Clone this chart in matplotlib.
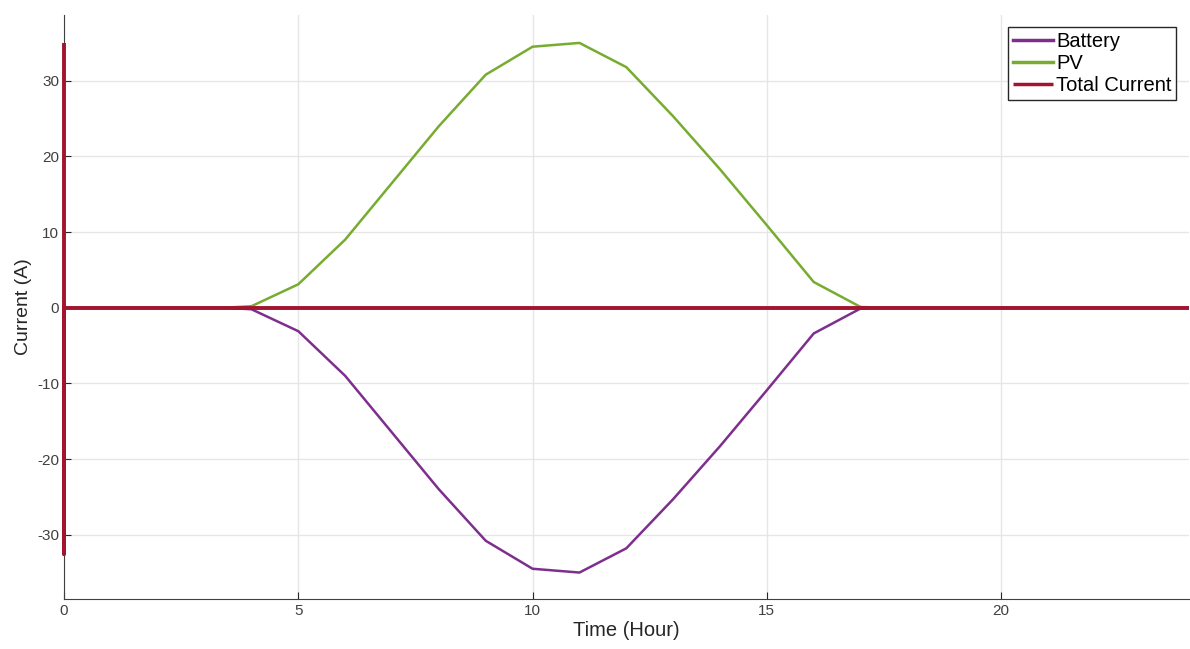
import numpy as np
import matplotlib.pyplot as plt

plt.rcParams['font.family'] = ['Liberation Sans', 'DejaVu Sans']
plt.rcParams['axes.unicode_minus'] = False

# hourly readings
hours = [0, 3.4, 4, 5, 6, 7, 8, 9, 10, 11, 12, 13, 14, 15, 16, 17, 17.5, 24]
pv = [0, 0, 0.2, 3.1, 9.0, 16.5, 24.0, 30.8, 34.5, 35.0, 31.8, 25.3, 18.3, 10.9, 3.4, 0.1, 0, 0]
battery = [-v for v in pv]
total_t = [0, 0, 0, 24]
total = [35.0, -32.5, 0, 0]

fig = plt.figure(figsize=(11.9, 6.49), dpi=100)
ax = fig.add_axes([0.0538, 0.077, 0.945, 0.9])

ax.plot(hours, battery, color='#7E2F8E', lw=1.8, label='Battery')
ax.plot(hours, pv, color='#77AC30', lw=1.8, label='PV')
ax.plot(total_t, total, color='#A2142F', lw=2.8, label='Total Current',
        clip_on=False, zorder=3, solid_capstyle='butt')

ax.set_xlim(0, 24)
ax.set_ylim(-38.5, 38.7)
ax.set_xticks([0, 5, 10, 15, 20])
ax.set_yticks([-30, -20, -10, 0, 10, 20, 30])
ax.grid(True, color='#e6e6e6', lw=1)
ax.set_axisbelow(True)
ax.tick_params(direction='in', length=5, colors='#262626', labelcolor='#404040', labelsize=11)
ax.spines['top'].set_visible(False)
ax.spines['right'].set_visible(False)
for s in ('left', 'bottom'):
    ax.spines[s].set_color('#404040')

ax.set_xlabel('Time (Hour)', fontsize=14.5, color='#262626', labelpad=2)
ax.set_ylabel('Current (A)', fontsize=14, color='#262626', labelpad=4)

leg = ax.legend(loc='upper right', fontsize=14.5, fancybox=False, framealpha=1,
                edgecolor='#262626', handlelength=2.0, handletextpad=0.15,
                borderaxespad=0.6, borderpad=0.25, labelspacing=0.15,
                bbox_to_anchor=(1.0, 1.0))
leg.get_frame().set_linewidth(1)
for line in leg.get_lines():
    line.set_linewidth(2.5)

fig.savefig('out.png', dpi=100)
